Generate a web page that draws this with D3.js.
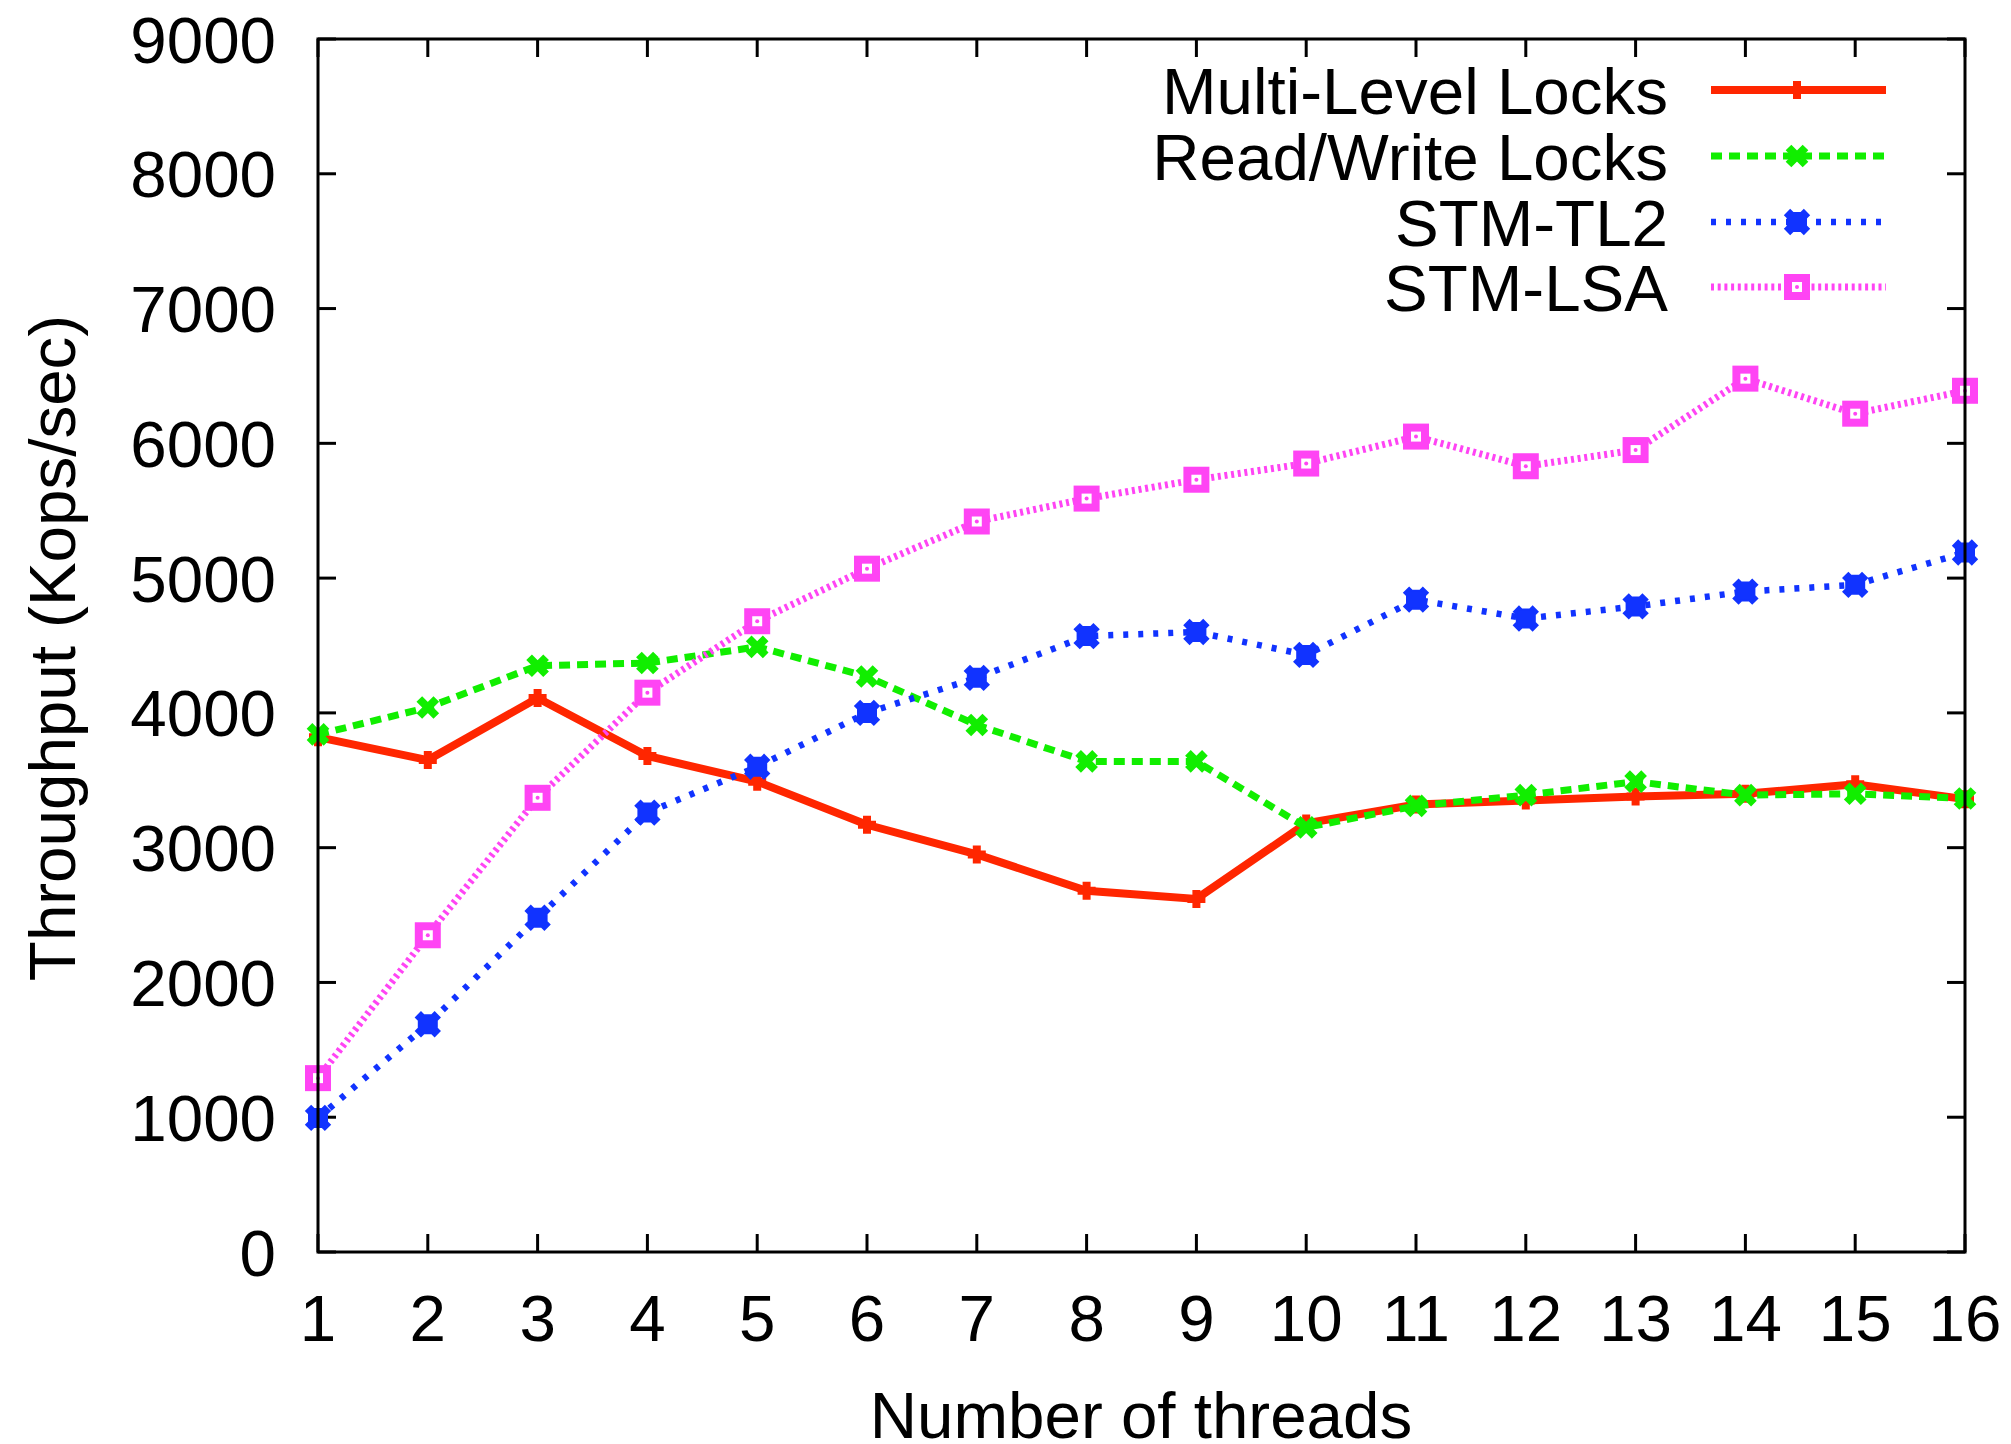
<!DOCTYPE html>
<html>
<head>
<meta charset="utf-8">
<script src="https://cdn.jsdelivr.net/npm/d3@7"></script>
<style>
  body { margin: 0; background: #fff; }
  text { font-family: "Liberation Sans", Arial, Helvetica, sans-serif; fill: #000; }
</style>
</head>
<body>
<script>
// thread counts on the x axis
var threads = [1,2,3,4,5,6,7,8,9,10,11,12,13,14,15,16];

// throughput values (Kops/sec)
var multiLevel = [3820,3650,4110,3680,3490,3170,2950,2680,2620,3180,3320,3350,3380,3400,3470,3360];
var readWrite  = [3840,4040,4350,4370,4490,4270,3910,3640,3640,3150,3310,3390,3490,3390,3400,3365];
var stmTL2     = [995,1690,2480,3260,3600,4000,4260,4570,4600,4430,4840,4700,4790,4900,4950,5190];
var stmLSA     = [1290,2350,3370,4150,4680,5070,5420,5590,5730,5850,6050,5830,5950,6480,6220,6390];

var seriesNames = ["Multi-Level Locks","Read/Write Locks","STM-TL2","STM-LSA"];
var yTicks = [0,1000,2000,3000,4000,5000,6000,7000,8000,9000];

var W = 2011, H = 1444;
// plot box (window.top is read-only, so no "top" here)
var pLeft = 318, pRight = 1965, pTop = 39, pBottom = 1252;
var fs = "65.5px";

var svg = d3.select("body").append("svg").attr("width", W).attr("height", H);

var x = d3.scaleLinear().domain([1,16]).range([pLeft, pRight]);
var y = d3.scaleLinear().domain([0,9000]).range([pBottom, pTop]);

// styles per series: colour, dash, width, marker
var styles = [
  {color:"#ff2600", dash:null,     width:8,   mark:"plus"},
  {color:"#11ee00", dash:"11,7",   width:7,   mark:"cross"},
  {color:"#1133ff", dash:"5,10",   width:6.5, mark:"star"},
  {color:"#ff44f4", dash:"3,3.7",  width:7,   mark:"box"}
];
var allData = [multiLevel, readWrite, stmTL2, stmLSA];

// ticks, mirrored on all sides, pointing inward
var tk = 18;
var g = svg.append("g");
yTicks.forEach(function(v){
  g.append("line").attr("x1",pLeft).attr("x2",pLeft+tk).attr("y1",y(v)).attr("y2",y(v));
  g.append("line").attr("x1",pRight).attr("x2",pRight-tk).attr("y1",y(v)).attr("y2",y(v));
});
threads.forEach(function(t){
  g.append("line").attr("x1",x(t)).attr("x2",x(t)).attr("y1",pBottom).attr("y2",pBottom-tk);
  g.append("line").attr("x1",x(t)).attr("x2",x(t)).attr("y1",pTop).attr("y2",pTop+tk);
});
g.selectAll("line").attr("stroke","#000").attr("stroke-width",3);

// tick labels
svg.selectAll("text.ylab").data(yTicks).enter().append("text")
  .attr("class","ylab")
  .attr("x", 276).attr("y", function(d){return y(d);})
  .attr("dy","0.36em").attr("text-anchor","end")
  .style("font-size",fs)
  .text(function(d){return d;});

svg.selectAll("text.xlab").data(threads).enter().append("text")
  .attr("class","xlab")
  .attr("x", function(d){return x(d);}).attr("y", 1317)
  .attr("dy","0.36em").attr("text-anchor","middle")
  .style("font-size",fs)
  .text(function(d){return d;});

svg.append("text").attr("x", 1141).attr("y", 1414).attr("dy","0.36em")
  .attr("text-anchor","middle").style("font-size",fs).text("Number of threads");

svg.append("text").attr("transform","translate(51,648) rotate(-90)").attr("dy","0.36em")
  .attr("text-anchor","middle").style("font-size",fs).text("Throughput (Kops/sec)");

function drawMark(sel, kind, color){
  var s;
  if (kind === "plus") {
    s = 9;
    sel.append("path").attr("d","M"+(-s)+",0H"+s+"M0,"+(-s)+"V"+s)
      .attr("stroke",color).attr("stroke-width",8).attr("fill","none");
  } else if (kind === "cross") {
    s = 8.5;
    sel.append("path").attr("d","M"+(-s)+","+(-s)+"L"+s+","+s+"M"+(-s)+","+s+"L"+s+","+(-s))
      .attr("stroke",color).attr("stroke-width",8).attr("fill","none");
  } else if (kind === "star") {
    s = 10;
    sel.append("path").attr("d","M"+(-s)+",0H"+s+"M0,"+(-s)+"V"+s+
      "M"+(-s)+","+(-s)+"L"+s+","+s+"M"+(-s)+","+s+"L"+s+","+(-s))
      .attr("stroke",color).attr("stroke-width",9).attr("fill","none");
    sel.append("rect").attr("x",-8).attr("y",-8).attr("width",16).attr("height",16).attr("fill",color);
  } else {
    s = 9;
    sel.append("rect").attr("x",-s).attr("y",-s).attr("width",2*s).attr("height",2*s)
      .attr("stroke",color).attr("stroke-width",8).attr("fill","#fff");
    sel.append("circle").attr("r",2).attr("fill",color);
  }
}

var line = d3.line().x(function(d){return x(d[0]);}).y(function(d){return y(d[1]);});

allData.forEach(function(vals, i){
  var st = styles[i];
  var pts = threads.map(function(t,j){return [t, vals[j]];});
  svg.append("path").datum(pts).attr("d", line)
    .attr("fill","none").attr("stroke",st.color).attr("stroke-width",st.width)
    .attr("stroke-dasharray",st.dash).attr("stroke-linejoin","miter");
  svg.selectAll("g.m"+i).data(pts).enter().append("g")
    .attr("class","m"+i)
    .attr("transform",function(d){return "translate("+x(d[0])+","+y(d[1])+")";})
    .each(function(){ drawMark(d3.select(this), st.mark, st.color); });
});

// legend
var legY = [90,156,222,287];
seriesNames.forEach(function(name, i){
  var st = styles[i];
  svg.append("text").attr("x",1668).attr("y",legY[i]).attr("dy","0.36em")
    .attr("text-anchor","end").style("font-size",fs).text(name);
  svg.append("line").attr("x1",1711).attr("x2",1886).attr("y1",legY[i]).attr("y2",legY[i])
    .attr("stroke",st.color).attr("stroke-width",st.width).attr("stroke-dasharray",st.dash);
  var mg = svg.append("g").attr("transform","translate(1797,"+legY[i]+")");
  drawMark(mg, st.mark, st.color);
});

// border
svg.append("rect").attr("x",pLeft).attr("y",pTop).attr("width",pRight-pLeft).attr("height",pBottom-pTop)
  .attr("fill","none").attr("stroke","#000").attr("stroke-width",3);
</script>
</body>
</html>
